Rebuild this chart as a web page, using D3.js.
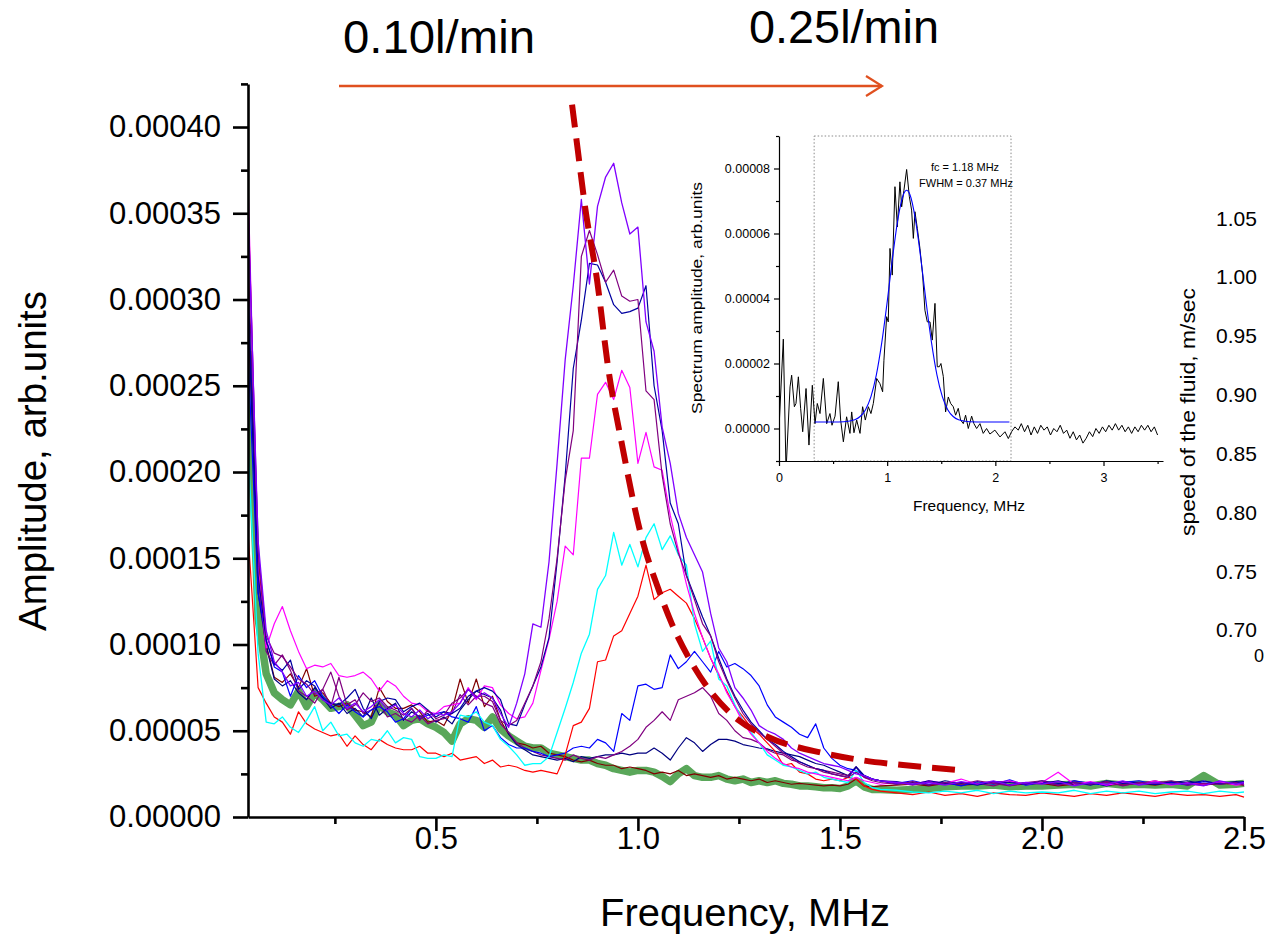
<!DOCTYPE html>
<html>
<head>
<meta charset="utf-8">
<script src="https://d3js.org/d3.v7.min.js"></script>
<style>
  body { margin: 0; background: #fff; }
  svg { display: block; font-family: "Liberation Sans", Arial, sans-serif; }
</style>
</head>
<body>
<svg id="chart" width="1267" height="936"></svg>
<script>
"use strict"

// Frequency grid of the main spectra, MHz
const freq = [
    0.035, 0.06, 0.08, 0.10, 0.12, 0.14, 0.16, 0.18, 0.20, 0.22,
    0.24, 0.26, 0.28, 0.30, 0.32, 0.34, 0.36, 0.38, 0.40, 0.42,
    0.44, 0.46, 0.48, 0.50, 0.52, 0.54, 0.56, 0.58, 0.60, 0.62,
    0.64, 0.66, 0.68, 0.70, 0.72, 0.74, 0.76, 0.78, 0.80, 0.82,
    0.84, 0.86, 0.88, 0.90, 0.92, 0.94, 0.96, 0.98, 1.00, 1.02,
    1.04, 1.06, 1.08, 1.10, 1.12, 1.14, 1.16, 1.18, 1.20, 1.22,
    1.24, 1.26, 1.28, 1.30, 1.32, 1.34, 1.36, 1.38, 1.40, 1.42,
    1.44, 1.46, 1.48, 1.50, 1.52, 1.54, 1.56, 1.58, 1.60,
    1.64, 1.68, 1.72, 1.76, 1.80, 1.84, 1.88, 1.92, 1.96, 2.00,
    2.04, 2.08, 2.12, 2.16, 2.20, 2.24, 2.28, 2.32, 2.36, 2.40,
    2.44, 2.48, 2.50
]

// Amplitudes, in units of 1e-5 arb.units
const ampGreen = [
    27.0, 11.5, 8.3, 7.2, 6.8, 6.5, 7.3, 6.4, 7.2, 6.8,
    6.3, 6.4, 6.5, 5.9, 5.3, 5.5, 6.5, 6.1, 5.9, 5.3,
    5.6, 5.7, 5.4, 5.2, 4.9, 4.4, 5.4, 5.7, 5.6, 5.2,
    5.8, 5.1, 4.7, 4.4, 4.1, 4.0, 4.0, 3.7, 3.6, 3.5,
    3.4, 3.3, 3.3, 3.1, 3.0, 2.8, 2.7, 2.6, 2.7, 2.7,
    2.6, 2.35, 2.05, 2.5, 2.8, 2.4, 2.3, 2.3, 2.4, 2.2,
    2.1, 2.2, 2.0, 2.1, 2.0, 2.1, 1.95, 1.9, 1.8, 1.8,
    1.75, 1.7, 1.7, 1.65, 1.8, 2.1, 1.75, 1.6, 1.6,
    1.55, 1.6, 1.65, 1.75, 1.8, 1.8, 1.85, 1.75, 1.8, 1.8,
    1.85, 1.9, 1.8, 1.95, 1.85, 1.9, 1.85, 1.9, 1.8, 2.4,
    1.85, 1.9, 1.95
]
const ampRed = [
    16.5, 7.5, 6.6, 5.8, 5.5, 4.8, 6.1, 5.4, 5.1, 4.9,
    4.7, 4.8, 4.1, 4.7, 4.2, 3.9, 4.5, 4.2, 4.0, 3.9,
    3.9, 4.1, 3.7, 3.7, 3.5, 3.7, 3.3, 3.4, 3.5, 3.1,
    3.3, 2.9, 3.0, 2.9, 2.7, 2.6, 2.7, 2.6, 2.5, 3.6,
    5.3, 5.5, 6.3, 9.0, 9.1, 10.5, 10.8, 11.8, 12.8, 14.6,
    12.6, 13.0, 13.2, 12.8, 12.4, 11.5, 10.4, 9.2, 8.2, 7.3,
    6.4, 5.8, 5.2, 4.8, 4.3, 3.8, 3.0, 3.1, 2.6, 2.5,
    2.2, 2.1, 2.2, 2.1, 2.3, 2.2, 1.8, 1.6, 1.5,
    1.4, 1.3, 1.45, 1.25, 1.35, 1.2, 1.4, 1.3, 1.25, 1.4,
    1.3, 1.2, 1.35, 1.25, 1.4, 1.3, 1.2, 1.35, 1.25, 1.3,
    1.2, 1.3, 1.15
]
const ampCyan = [
    21.5, 9.5, 5.5, 5.4, 5.8, 5.2, 4.9, 5.6, 6.4, 5.0,
    5.5, 4.7, 4.8, 4.3, 4.1, 4.5, 4.4, 5.0, 4.3, 4.6,
    4.5, 3.5, 3.4, 3.4, 3.6, 3.5, 5.9, 5.8, 6.1, 5.5,
    5.3, 4.5, 4.1, 3.6, 3.0, 3.1, 3.1, 3.5, 4.9, 6.3,
    7.8, 9.5, 10.6, 13.2, 14.0, 16.5, 14.6, 15.8, 14.5, 16.2,
    17.0, 15.5, 16.3, 15.2, 14.6, 11.2, 9.6, 10.2, 8.0, 7.6,
    6.5, 5.6, 4.9, 4.3, 3.6, 3.3, 3.0, 2.9, 2.7, 2.5,
    2.6, 2.3, 2.2, 2.1, 2.0, 2.7, 2.0, 1.7, 1.6,
    1.55, 1.45, 1.4, 1.5, 1.4, 1.55, 1.35, 1.5, 1.4, 1.45,
    1.4, 1.55, 1.35, 1.5, 1.4, 1.5, 1.35, 1.45, 1.5, 1.35,
    1.5, 1.4, 1.45
]
const ampMagenta = [
    37.0, 14.5, 9.8, 11.2, 12.2, 10.8, 9.6, 8.6, 8.8, 8.7,
    8.9, 8.2, 8.1, 8.2, 8.4, 8.0, 7.3, 7.9, 7.6, 7.0,
    6.6, 6.5, 6.1, 6.0, 6.4, 6.5, 6.6, 7.5, 6.8, 7.6,
    7.5, 6.5, 6.0, 5.7, 5.8, 6.6, 8.5, 10.3, 12.5, 15.7,
    15.2, 20.8, 20.8, 24.5, 25.2, 24.2, 25.9, 24.9, 20.5, 22.3,
    20.3, 20.1, 17.5, 15.5, 13.5, 11.8, 10.4, 9.2, 8.3, 7.2,
    6.4, 5.5, 4.8, 4.3, 3.8, 3.4, 3.1, 2.9, 2.8, 2.6,
    2.5, 2.4, 2.3, 2.2, 2.1, 2.3, 2.1, 2.0, 1.9,
    2.0, 1.9, 2.1, 1.95, 2.2, 1.9, 2.0, 2.1, 1.9, 2.0,
    2.6, 1.9, 2.05, 1.85, 2.0, 1.9, 2.1, 1.85, 2.0, 1.9,
    2.05, 1.85, 1.9
]
const ampViolet = [
    35.5, 16.0, 10.8, 9.0, 8.4, 7.6, 7.8, 7.0, 7.3, 6.8,
    6.5, 6.9, 6.3, 6.6, 6.1, 6.4, 6.8, 6.2, 6.5, 6.0,
    5.8, 6.2, 5.7, 6.0, 5.9, 6.1, 6.6, 7.4, 6.9, 7.2,
    6.9, 6.0, 5.2, 6.6, 8.3, 11.2, 11.0, 14.8, 20.5, 26.5,
    30.8, 35.8, 30.9, 35.4, 37.1, 37.9, 35.6, 33.8, 34.2, 28.7,
    27.0, 22.6, 20.5, 17.6, 16.2, 15.2, 14.2, 11.8, 9.8, 9.0,
    7.5, 6.9, 6.2, 5.3, 5.0, 4.8, 4.5, 4.0, 3.7, 3.5,
    3.3, 3.1, 3.0, 2.9, 2.7, 2.5, 2.4, 2.2, 2.1,
    2.0, 1.9, 2.0, 1.85, 2.05, 1.9, 2.1, 1.85, 2.0, 1.9,
    2.05, 1.8, 2.0, 1.9, 2.1, 1.85, 2.0, 1.9, 1.95, 1.8,
    2.1, 1.9, 2.0
]
const ampPurpleHigh = [
    36.0, 15.5, 10.5, 9.5, 9.3, 8.7, 8.0, 7.7, 7.1, 7.4,
    8.4, 7.0, 6.2, 6.5, 7.2, 6.7, 6.9, 6.4, 6.2, 5.9,
    6.3, 5.6, 6.2, 5.7, 5.9, 6.6, 6.9, 7.4, 7.0, 7.0,
    6.7, 5.6, 5.3, 5.6, 6.6, 7.6, 9.0, 11.5, 15.0, 19.5,
    22.4, 32.5, 34.0, 32.6, 31.0, 31.7, 30.2, 29.9, 30.0, 24.7,
    24.2, 19.8, 17.0, 15.3, 14.0, 12.6, 11.2, 10.5, 9.0, 7.9,
    6.9, 6.0, 5.4, 4.9, 4.5, 4.1, 3.7, 3.4, 3.1, 2.9,
    2.8, 2.6, 2.5, 2.4, 2.3, 2.6, 2.3, 2.1, 2.0,
    1.9, 2.05, 1.85, 2.0, 1.9, 2.1, 1.95, 1.8, 2.0, 2.1,
    1.85, 2.0, 1.9, 2.05, 1.8, 2.0, 1.95, 2.1, 1.85, 1.95,
    1.9, 2.0, 1.85
]
const ampNavyHigh = [
    31.0, 14.0, 10.2, 8.9, 8.5, 9.1, 7.4, 7.9, 7.6, 6.8,
    6.6, 6.5, 6.9, 7.4, 6.3, 5.7, 6.7, 6.9, 6.8, 6.1,
    6.4, 6.6, 6.2, 5.8, 6.1, 6.0, 6.3, 7.0, 7.3, 7.5,
    7.3, 6.8, 5.4, 5.3, 6.5, 7.6, 8.7, 10.4, 14.8, 19.8,
    26.0, 28.8, 32.1, 32.0, 31.0, 29.7, 29.2, 29.3, 29.5, 30.8,
    25.0, 22.4, 18.2, 17.0, 14.0, 12.8, 11.6, 10.5, 9.2, 8.0,
    7.0, 6.2, 5.5, 5.0, 4.5, 4.2, 3.8, 3.5, 3.2, 3.0,
    2.8, 2.7, 2.5, 2.4, 2.3, 2.9, 2.4, 2.2, 2.1,
    2.05, 1.9, 2.1, 1.95, 2.0, 1.85, 2.05, 2.0, 1.9, 2.1,
    1.95, 2.0, 1.85, 2.1, 1.95, 2.0, 1.9, 2.05, 1.95, 2.1,
    1.9, 2.0, 2.05
]
const ampBlue = [
    27.0, 13.0, 10.3, 8.7, 8.4, 7.0, 8.2, 7.5, 7.9, 7.0,
    6.5, 6.0, 6.5, 6.1, 5.8, 6.2, 6.4, 6.1, 5.5, 5.7,
    6.3, 5.7, 5.9, 6.0, 6.1, 5.8, 5.7, 5.5, 6.4, 5.0,
    5.3, 4.6, 4.2, 4.0, 4.0, 3.8, 3.7, 3.5, 3.6, 3.7,
    4.0, 4.1, 4.0, 4.5, 4.3, 3.8, 6.0, 5.6, 7.6, 7.7,
    7.4, 7.5, 9.4, 8.6, 9.0, 9.6, 9.0, 8.4, 9.6, 8.7,
    8.9, 8.6, 8.2, 7.6, 6.5, 5.8, 5.5, 5.2, 4.8, 4.6,
    5.4, 4.0, 3.4, 3.0, 2.8, 2.7, 2.4, 2.2, 2.1,
    1.95, 2.1, 1.9, 2.0, 1.8, 2.05, 1.9, 2.15, 1.85, 2.0,
    1.9, 2.1, 1.95, 1.85, 2.0, 2.1, 1.9, 2.0, 1.85, 2.05,
    1.95, 2.0, 1.9
]
const ampPurpleLow = [
    33.0, 14.0, 9.6, 8.8, 9.4, 8.5, 7.3, 7.0, 6.6, 7.4,
    6.4, 8.1, 6.5, 6.8, 6.0, 6.2, 6.6, 5.8, 6.0, 5.7,
    5.5, 5.9, 5.4, 5.6, 5.7, 6.0, 7.1, 6.5, 7.0, 6.6,
    6.4, 5.4, 4.9, 4.3, 4.0, 3.8, 3.6, 3.5, 3.4, 3.3,
    3.6, 3.4, 3.3, 3.5, 3.4, 3.6, 3.8, 4.1, 4.5, 5.2,
    5.6, 6.1, 5.6, 6.8, 7.0, 7.2, 7.5, 7.0, 6.0, 5.6,
    5.0, 4.6, 4.5, 4.3, 3.9, 3.7, 3.6, 3.3, 3.2, 3.0,
    2.8, 2.7, 2.6, 2.5, 2.4, 2.9, 2.3, 2.2, 2.1,
    2.0, 1.85, 2.05, 1.9, 2.0, 1.95, 1.8, 2.05, 1.9, 2.0,
    1.85, 2.1, 1.9, 2.0, 1.85, 1.95, 2.1, 1.9, 2.0, 1.85,
    2.0, 1.9, 1.95
]
const ampNavyLow = [
    30.0, 13.0, 9.9, 8.0, 7.6, 7.9, 7.2, 6.8, 7.5, 6.9,
    6.3, 6.6, 6.0, 6.3, 5.8, 6.9, 5.9, 6.3, 6.6, 5.6,
    6.1, 5.8, 6.0, 5.5, 5.8, 5.4, 6.2, 6.8, 7.3, 7.1,
    6.9, 6.2, 4.8, 4.2, 3.9, 3.6, 3.5, 3.4, 3.3, 3.4,
    3.2, 3.5, 3.4, 3.5, 3.6, 3.6, 3.7, 3.6, 3.7, 3.7,
    4.0, 3.7, 3.3, 4.0, 4.6, 4.3, 3.8, 4.2, 4.5, 4.5,
    4.4, 4.2, 4.1, 4.0, 3.95, 3.8, 3.7, 3.6, 3.5, 3.3,
    3.1, 3.0, 2.8, 2.6, 2.4, 2.9, 2.4, 2.2, 2.1,
    1.9, 2.0, 1.85, 2.1, 1.95, 1.9, 2.05, 1.85, 2.0, 1.95,
    2.1, 1.9, 2.0, 1.8, 2.05, 1.95, 1.9, 2.0, 2.1, 1.9,
    1.95, 2.05, 2.0
]
const ampMaroon = [
    29.0, 15.0, 10.0, 8.1, 7.8, 8.3, 7.5, 8.6, 7.0, 7.2,
    6.6, 6.4, 6.6, 6.2, 6.1, 5.8, 7.5, 6.7, 6.3, 6.3,
    6.5, 6.1, 5.5, 5.6, 5.3, 6.2, 8.0, 6.6, 8.0, 6.4,
    7.0, 5.6, 4.8, 4.3, 4.2, 4.0, 4.1, 3.7, 3.6, 3.5,
    3.3, 3.2, 3.3, 3.1, 3.0, 3.0, 2.8, 2.9, 2.8, 2.7,
    2.5, 2.6, 2.5, 2.7, 2.4, 2.5, 2.4, 2.3, 2.4, 2.2,
    2.3, 2.2, 2.1, 2.2, 2.0, 2.1, 2.0, 1.9, 1.95, 1.9,
    1.85, 1.8, 1.85, 1.8, 1.9, 2.2, 1.8, 1.75, 1.8,
    1.85, 1.9, 1.8, 1.95, 1.85, 1.9, 2.0, 1.85, 1.9, 1.95,
    1.8, 1.9, 2.0, 1.85, 1.9, 1.95, 1.85, 2.0, 1.9, 1.85,
    1.95, 1.9, 1.85
]

// Hand-drawn trend of the peak position [MHz, 1e-5]
const peakTrend = [
    [0.837, 41.3], [0.851, 38.7], [0.869, 35.4], [0.899, 31.1], [0.926, 26.1],
    [0.963, 21.3], [1.005, 16.6], [1.054, 13.0], [1.084, 11.2], [1.129, 9.1],
    [1.176, 7.4], [1.250, 5.6], [1.322, 4.64], [1.458, 3.71], [1.552, 3.30],
    [1.656, 3.01], [1.797, 2.72]
]

// Inset: measured spectrum and its gaussian fit [MHz, 1e-5]
const insetSpectrum = [
    [0.000, 0.0], [0.040, 2.75], [0.065, -1.3], [0.102, 1.28], [0.117, 1.64], [0.142, 0.67],
    [0.157, 0.77], [0.179, 1.59], [0.200, 0.62], [0.219, -0.10], [0.250, 1.23], [0.277, -0.51],
    [0.308, 1.33], [0.333, 0.15], [0.354, 0.77], [0.379, 0.46], [0.410, 1.54], [0.441, 0.15],
    [0.471, 0.46], [0.490, 0.10], [0.518, 0.38], [0.548, 1.44], [0.570, 0.26], [0.595, -0.41],
    [0.625, 0.36], [0.656, -0.15], [0.672, 0.51], [0.693, -0.13], [0.718, 0.26], [0.749, -0.15],
    [0.773, 0.67], [0.798, 0.26], [0.826, 0.67], [0.850, 0.46], [0.872, 0.77], [0.903, 1.54],
    [0.933, 1.38], [0.958, 1.13], [0.970, 2.10], [0.995, 3.44], [1.010, 3.28], [1.026, 5.54],
    [1.047, 4.72], [1.072, 7.44], [1.094, 6.20], [1.118, 7.59], [1.134, 6.82], [1.155, 7.33],
    [1.180, 7.97], [1.205, 7.13], [1.226, 6.72], [1.242, 5.85], [1.257, 6.67], [1.279, 6.15],
    [1.303, 5.54], [1.328, 4.72], [1.349, 3.64], [1.371, 3.28], [1.396, 3.28], [1.417, 2.72],
    [1.442, 3.85], [1.463, 1.90], [1.482, 1.90], [1.497, 2.00], [1.519, 1.60], [1.540, 0.51],
    [1.565, 0.97], [1.587, 0.77], [1.611, 0.67], [1.633, 0.41], [1.657, 0.62], [1.679, 0.26],
    [1.704, 0.15], [1.725, 0.41], [1.750, 0.00], [1.781, 0.38], [1.802, 0.15], [1.827, 0.00],
    [1.858, 0.15], [1.888, -0.15], [1.919, 0.00], [1.950, -0.17], [1.996, -0.05], [2.043, -0.26],
    [2.089, -0.10], [2.120, -0.31], [2.150, -0.10], [2.181, 0.05], [2.212, -0.05], [2.24, 0.15],
    [2.27, -0.10], [2.30, 0.10], [2.33, -0.20], [2.36, 0.05], [2.39, -0.15], [2.42, 0.10],
    [2.45, -0.05], [2.48, 0.05], [2.51, -0.20], [2.54, 0.00], [2.57, -0.10], [2.60, 0.10],
    [2.63, -0.15], [2.66, -0.05], [2.69, -0.30], [2.72, -0.10], [2.75, -0.35], [2.78, -0.20],
    [2.81, -0.45], [2.84, -0.30], [2.87, -0.10], [2.90, -0.25], [2.93, 0.00], [2.96, -0.15],
    [2.99, 0.05], [3.02, -0.10], [3.05, 0.10], [3.08, -0.05], [3.11, 0.15], [3.14, -0.05],
    [3.17, 0.10], [3.20, -0.10], [3.23, 0.05], [3.26, -0.15], [3.29, 0.05], [3.32, -0.10],
    [3.35, 0.10], [3.38, -0.05], [3.41, 0.10], [3.44, -0.10], [3.47, 0.05], [3.50, -0.20]
]
const gaussFit = [
    [0.33, 0.2], [0.50, 0.2], [0.60, 0.21], [0.70, 0.27], [0.75, 0.37], [0.80, 0.58],
    [0.85, 0.98], [0.90, 1.65], [0.95, 2.64], [1.00, 3.89], [1.05, 5.26], [1.10, 6.46],
    [1.15, 7.2], [1.18, 7.33], [1.21, 7.2], [1.26, 6.46], [1.31, 5.26], [1.36, 3.89],
    [1.41, 2.64], [1.46, 1.65], [1.51, 0.98], [1.56, 0.58], [1.61, 0.37], [1.66, 0.27],
    [1.76, 0.21], [1.90, 0.2], [2.13, 0.2]
]

// Tick values
const xMajorTicks = [0.5, 1.0, 1.5, 2.0, 2.5]
const xMinorTicks = [0.25, 0.75, 1.25, 1.75, 2.25]
const yMajorTicks = [0, 5, 10, 15, 20, 25, 30, 35, 40]
const yMinorTicks = [2.5, 7.5, 12.5, 17.5, 22.5, 27.5, 32.5, 37.5, 42.5]
const insetXMajor = [0, 1, 2, 3]
const insetXMinor = [0.5, 1.5, 2.5, 3.5]
const insetYMajor = [0, 2, 4, 6, 8]
const insetYMinor = [-1, 1, 3, 5, 7, 9]
// right axis of the figure partly hidden behind this one
const speedTicks = [0.70, 0.75, 0.80, 0.85, 0.90, 0.95, 1.00, 1.05]

const FONT = '"Liberation Sans", Arial, sans-serif'

/**
 * Draws an axis (major ticks with labels, minor ticks without)
 */
function drawAxis(svg, maker, scale, transform, opts){
    const major = svg.append("g")
        .attr("transform", transform)
        .call(maker(scale).tickValues(opts.major).tickSize(opts.majorSize)
            .tickSizeOuter(0).tickPadding(opts.padding).tickFormat(opts.format))
    const minor = svg.append("g")
        .attr("transform", transform)
        .call(maker(scale).tickValues(opts.minor).tickSize(opts.minorSize).tickFormat(""))
    minor.select(".domain").remove()
    ;[major, minor].forEach(g => g.selectAll("path, line")
        .attr("stroke", "#000")
        .attr("stroke-width", opts.width))
    major.selectAll("text")
        .attr("font-family", FONT)
        .attr("font-size", opts.fontSize)
        .attr("fill", "#000")
    return major
}

function init(){
    const svg = d3.select("#chart")
    svg.append("rect").attr("width", 1267).attr("height", 936).attr("fill", "#fff")

    // ---------- main chart ----------
    const x = d3.scaleLinear().domain([0.035, 2.5]).range([248, 1244])
    const y = d3.scaleLinear().domain([0, 42.5]).range([817, 83.9])

    svg.append("clipPath").attr("id", "plotClip")
        .append("rect").attr("x", 248).attr("y", 80).attr("width", 1000).attr("height", 737)

    const series = [
        {values: ampGreen, color: "#5aa75a", width: 7.5},
        {values: ampMaroon, color: "#800000", width: 1.2},
        {values: ampNavyLow, color: "#000080", width: 1.2},
        {values: ampPurpleLow, color: "#800080", width: 1.2},
        {values: ampBlue, color: "#0000ff", width: 1.2},
        {values: ampRed, color: "#ff0000", width: 1.2},
        {values: ampCyan, color: "#00ffff", width: 1.3},
        {values: ampMagenta, color: "#ff00ff", width: 1.2},
        {values: ampNavyHigh, color: "#0000a0", width: 1.2},
        {values: ampPurpleHigh, color: "#800080", width: 1.2},
        {values: ampViolet, color: "#8000ff", width: 1.3}
    ]

    const plot = svg.append("g").attr("clip-path", "url(#plotClip)")
    const spectrumLine = d3.line().x((d, i) => x(freq[i])).y(d => y(d))
    series.forEach(s => {
        if(s.values.length !== freq.length)
            console.error("length mismatch", s.color, s.values.length)
        plot.append("path")
            .datum(s.values)
            .attr("d", spectrumLine)
            .attr("fill", "none")
            .attr("stroke", s.color)
            .attr("stroke-width", s.width)
            .attr("stroke-linejoin", "round")
    })

    // dashed trend of the peak
    plot.append("path")
        .datum(peakTrend)
        .attr("d", d3.line().x(d => x(d[0])).y(d => y(d[1])).curve(d3.curveMonotoneX))
        .attr("fill", "none")
        .attr("stroke", "#c00000")
        .attr("stroke-width", 6)
        .attr("stroke-dasharray", "23,11")

    // axes
    drawAxis(svg, d3.axisLeft, y, "translate(248,0)", {
        major: yMajorTicks, minor: yMinorTicks, majorSize: 15, minorSize: 7,
        padding: 12, format: v => (v * 1e-5).toFixed(5), width: 2.6, fontSize: 31
    })
    drawAxis(svg, d3.axisBottom, x, "translate(0,817)", {
        major: xMajorTicks, minor: xMinorTicks, majorSize: 14, minorSize: 7,
        padding: -4, format: d3.format(".1f"), width: 2.6, fontSize: 31
    })

    svg.append("text")
        .attr("transform", "translate(46,461) rotate(-90)")
        .attr("text-anchor", "middle")
        .attr("font-size", 38)
        .attr("textLength", 340)
        .attr("lengthAdjust", "spacingAndGlyphs")
        .text("Amplitude, arb.units")

    svg.append("text")
        .attr("x", 745).attr("y", 926)
        .attr("text-anchor", "middle")
        .attr("font-size", 38)
        .attr("textLength", 290)
        .attr("lengthAdjust", "spacingAndGlyphs")
        .text("Frequency, MHz")

    // flow rate annotation with arrow
    svg.append("text").attr("x", 343).attr("y", 53)
        .attr("font-size", 46).attr("textLength", 192).attr("lengthAdjust", "spacingAndGlyphs")
        .text("0.10l/min")
    svg.append("text").attr("x", 749).attr("y", 43)
        .attr("font-size", 46).attr("textLength", 190).attr("lengthAdjust", "spacingAndGlyphs")
        .text("0.25l/min")
    svg.append("line")
        .attr("x1", 339).attr("y1", 86).attr("x2", 882).attr("y2", 86)
        .attr("stroke", "#e0501f").attr("stroke-width", 2.5)
    svg.append("path")
        .attr("d", "M866,76 L882,86 L866,96")
        .attr("fill", "none").attr("stroke", "#e0501f").attr("stroke-width", 2.2)

    // ---------- inset ----------
    const ix = d3.scaleLinear().domain([0, 3.55]).range([779, 1163])
    const iy = d3.scaleLinear().domain([-1, 9]).range([461, 136])

    svg.append("clipPath").attr("id", "insetClip")
        .append("rect").attr("x", 779).attr("y", 130).attr("width", 390).attr("height", 331)

    svg.append("rect")
        .attr("x", ix(0.325)).attr("y", 136)
        .attr("width", ix(2.145) - ix(0.325)).attr("height", 325)
        .attr("fill", "none").attr("stroke", "#8a8a8a")
        .attr("stroke-width", 1).attr("stroke-dasharray", "1.5,2")

    const inset = svg.append("g").attr("clip-path", "url(#insetClip)")
    inset.append("path")
        .datum(insetSpectrum)
        .attr("d", d3.line().x(d => ix(d[0])).y(d => iy(d[1])))
        .attr("fill", "none").attr("stroke", "#000").attr("stroke-width", 1)
    inset.append("path")
        .datum(gaussFit)
        .attr("d", d3.line().x(d => ix(d[0])).y(d => iy(d[1])).curve(d3.curveMonotoneX))
        .attr("fill", "none").attr("stroke", "#0000ff").attr("stroke-width", 1.1)

    drawAxis(svg, d3.axisLeft, iy, "translate(779,0)", {
        major: insetYMajor, minor: insetYMinor, majorSize: 5, minorSize: 3,
        padding: 4, format: v => (v * 1e-5).toFixed(5), width: 1.2, fontSize: 12.5
    })
    drawAxis(svg, d3.axisBottom, ix, "translate(0,461)", {
        major: insetXMajor, minor: insetXMinor, majorSize: 5, minorSize: 3,
        padding: 7, format: d3.format("d"), width: 1.2, fontSize: 12.5
    })

    svg.append("text")
        .attr("transform", "translate(702,298) rotate(-90)")
        .attr("text-anchor", "middle")
        .attr("font-size", 14)
        .attr("textLength", 232)
        .attr("lengthAdjust", "spacingAndGlyphs")
        .text("Spectrum amplitude, arb.units")
    svg.append("text")
        .attr("x", 969).attr("y", 511)
        .attr("text-anchor", "middle")
        .attr("font-size", 14)
        .attr("textLength", 112)
        .attr("lengthAdjust", "spacingAndGlyphs")
        .text("Frequency, MHz")
    svg.append("text").attr("x", 965).attr("y", 171)
        .attr("text-anchor", "middle").attr("font-size", 11)
        .text("fc = 1.18 MHz")
    svg.append("text").attr("x", 966).attr("y", 187)
        .attr("text-anchor", "middle").attr("font-size", 11)
        .text("FWHM = 0.37 MHz")

    // ---------- fragment of the speed axis on the right ----------
    const sy = d3.scaleLinear().domain([0.70, 1.05]).range([630, 218.3])
    svg.append("g").selectAll("text")
        .data(speedTicks)
        .join("text")
        .attr("x", 1216)
        .attr("y", d => sy(d))
        .attr("dy", "0.35em")
        .attr("font-size", 21)
        .text(d => d.toFixed(2))
    svg.append("text").attr("x", 1254).attr("y", 662).attr("font-size", 18).text("0")
    svg.append("text")
        .attr("transform", "translate(1195,412) rotate(-90)")
        .attr("text-anchor", "middle")
        .attr("font-size", 21)
        .attr("textLength", 248)
        .attr("lengthAdjust", "spacingAndGlyphs")
        .text("speed of the fluid, m/sec")

    svg.selectAll("text").attr("font-family", FONT).attr("fill", "#000")
}

init()
</script>
</body>
</html>
